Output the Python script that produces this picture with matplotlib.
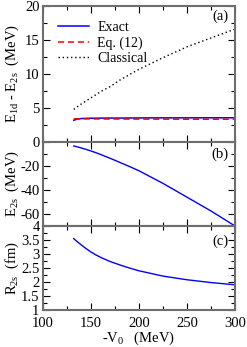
import matplotlib
matplotlib.use("Agg")
import matplotlib.pyplot as plt
import numpy as np
from matplotlib.ticker import MultipleLocator

plt.rcParams['font.family'] = ['Liberation Serif', 'DejaVu Serif']
plt.rcParams['mathtext.fontset'] = 'custom'
plt.rcParams['mathtext.rm'] = 'Liberation Serif'
plt.rcParams['mathtext.it'] = 'Liberation Serif'

# Data
v0 = [132, 136, 140, 145, 150, 155, 160, 170, 180, 190, 200, 225, 250, 275, 300]
exact_diff = [3.2, 3.38, 3.45, 3.48, 3.5, 3.5, 3.51, 3.52, 3.52, 3.53, 3.54, 3.55, 3.55, 3.56, 3.56]
eq12_diff = [3.42, 3.41, 3.4, 3.4, 3.39, 3.39, 3.39, 3.38, 3.38, 3.37, 3.37, 3.36, 3.35, 3.35, 3.34]
classical_diff = [4.8, 5.2, 5.6, 6.05, 6.5, 6.95, 7.4, 8.15, 9.1, 9.9, 10.7, 12.4, 14.0, 15.3, 16.6]
e2s = [-3.3, -4.1, -5.0, -6.2, -7.5, -8.9, -10.4, -13.6, -17.0, -20.4, -24.0, -34.5, -46.0, -57.5, -70.0]
r2s = [3.55, 3.43, 3.32, 3.19, 3.07, 2.97, 2.88, 2.73, 2.61, 2.5, 2.4, 2.21, 2.08, 1.98, 1.9]

fig = plt.figure(figsize=(2.47, 3.47), dpi=100)
left, right = 43/247, 235/247
W = right - left
def fy(p):
    return 1 - p/347
axa = fig.add_axes([left, fy(142), W, fy(6)-fy(142)])
axb = fig.add_axes([left, fy(226), W, fy(142)-fy(226)])
axc = fig.add_axes([left, fy(310), W, fy(226)-fy(310)])

fs = 10.5
spine_col = '#6e6e6e'
for ax in (axa, axb, axc):
    ax.set_xlim(100, 300)
    ax.xaxis.set_major_locator(MultipleLocator(50))
    ax.xaxis.set_minor_locator(MultipleLocator(25))
    ax.tick_params(which='both', direction='in', top=True, right=True, labelsize=fs, width=0.8, color='black', pad=2.5)
    ax.tick_params(which='major', length=5)
    ax.tick_params(which='minor', length=3)
    for s in ax.spines.values():
        s.set_color(spine_col)
        s.set_linewidth(1.5)

axa.plot(v0, exact_diff, color='#0000ff', lw=1.1, label='Exact')
axa.plot(v0, eq12_diff, color='#ff0000', lw=1.1, ls=(0, (4, 2.5)), label='Eq. (12)')
axa.plot(v0, classical_diff, color='black', lw=1.0, ls=(0, (1, 2)), label='Classical')
axa.set_ylim(0, 20)
axa.yaxis.set_major_locator(MultipleLocator(5))
axa.yaxis.set_minor_locator(MultipleLocator(2.5))
axa.tick_params(labelbottom=False)
axa.set_ylabel('E$_{1d}$ - E$_{2s}$  (MeV)', fontsize=fs)
axa.yaxis.set_label_coords(-0.115, 0.5)
axa.legend(loc='upper left', frameon=False, fontsize=10, handlelength=2.2,
           borderaxespad=0.3, labelspacing=0.15, handletextpad=0.6,
           bbox_to_anchor=(0.03, 0.96))
axa.text(0.965, 0.925, '(a)', transform=axa.transAxes, ha='right', va='center', fontsize=fs)

axb.plot(v0, e2s, color='#0000ff', lw=1.0)
axb.set_ylim(-70, 0)
axb.set_yticks([-60, -40, -20, 0])
axb.set_yticklabels(['-60', '-40', '-20', ''])
axb.yaxis.set_minor_locator(MultipleLocator(10))
axb.tick_params(labelbottom=False)
axb.set_ylabel('E$_{2s}$  (MeV)', fontsize=fs)
axb.yaxis.set_label_coords(-0.115, 0.5)
axb.text(0.965, 0.85, '(b)', transform=axb.transAxes, ha='right', va='center', fontsize=fs)

axc.plot(v0, r2s, color='#0000ff', lw=1.0)
axc.set_ylim(1, 4)
axc.set_yticks([1, 1.5, 2, 2.5, 3, 3.5, 4])
axc.set_yticklabels(['1', '1.5', '2', '2.5', '3', '3.5', '4'])
axc.yaxis.set_minor_locator(MultipleLocator(0.25))
axc.tick_params(axis='x', pad=5)
axc.set_ylabel('R$_{2s}$  (fm)', fontsize=fs)
axc.yaxis.set_label_coords(-0.115, 0.5)
axc.set_xticks([100, 150, 200, 250, 300])
axc.set_xticklabels(['100', '150', '200', '250', '300'])
axc.set_xlabel('-V$_0$   (MeV)', fontsize=fs, labelpad=0)
axc.text(0.965, 0.82, '(c)', transform=axc.transAxes, ha='right', va='center', fontsize=fs)

fig.savefig('out.png', dpi=100)
